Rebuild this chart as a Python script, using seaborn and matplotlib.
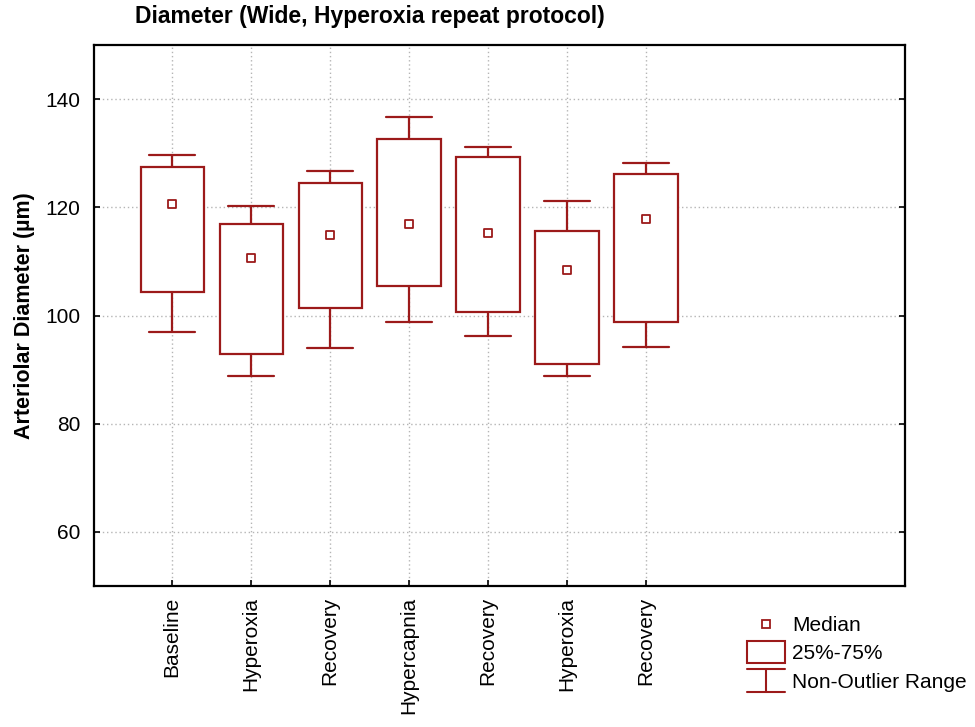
import numpy as np
import pandas as pd
import matplotlib
matplotlib.use("Agg")
import matplotlib.pyplot as plt
from matplotlib.patches import Rectangle
from matplotlib.lines import Line2D
from matplotlib.legend_handler import HandlerBase
import seaborn as sns

# ---- data ----
categories = ["Baseline", "Hyperoxia", "Recovery", "Hypercapnia", "Recovery", "Hyperoxia", "Recovery"]
whisker_low = [97.0, 88.9, 94.0, 98.8, 96.2, 88.9, 94.1]
q1 = [104.4, 92.9, 101.4, 105.5, 100.7, 91.0, 98.8]
median = [120.7, 110.7, 114.8, 117.0, 115.2, 108.5, 117.8]
q3 = [127.4, 117.0, 124.4, 132.6, 129.3, 115.6, 126.2]
whisker_high = [129.6, 120.3, 126.7, 136.7, 131.1, 121.1, 128.1]
y_ticks = [60, 80, 100, 120, 140]

RED = "#9c1a1a"

rows = []
for i in range(len(categories)):
    for v in (whisker_low[i], q1[i], median[i], q3[i], whisker_high[i]):
        rows.append({"pos": i, "val": v})
df = pd.DataFrame(rows)
med_df = pd.DataFrame({"pos": np.arange(len(categories)), "val": median})

sns.set_style("white")
plt.rcParams["font.family"] = ["Liberation Sans", "DejaVu Sans"]
plt.rcParams["text.color"] = "black"
plt.rcParams["axes.labelcolor"] = "black"
plt.rcParams["xtick.color"] = "black"
plt.rcParams["ytick.color"] = "black"

fig = plt.figure(figsize=(9.75, 7.27), dpi=100)
ax = fig.add_axes([94 / 975, 1 - 586 / 727, (905 - 94) / 975, (586 - 45) / 727])

sns.boxplot(data=df, x="pos", y="val", orient="x", native_scale=True, width=0.8,
            whis=(0, 100), color="white", linecolor=RED, linewidth=1.6, fill=True,
            showfliers=False, medianprops={"visible": False}, ax=ax, zorder=3)

# widen caps
for ln in ax.lines:
    xd = np.asarray(ln.get_xdata(), dtype=float)
    yd = np.asarray(ln.get_ydata(), dtype=float)
    if len(xd) == 2 and yd[0] == yd[1] and xd[0] != xd[1]:
        c = (xd[0] + xd[1]) / 2
        ln.set_xdata([c - 0.29, c + 0.29])

sns.scatterplot(data=med_df, x="pos", y="val", marker="s", s=40, facecolor="white",
                edgecolor=RED, linewidth=1.3, ax=ax, zorder=5, legend=False)

ax.set_xlim(-0.99, 9.28)
ax.set_ylim(50, 150)
ax.set_yticks(y_ticks)
ax.set_xticks(np.arange(len(categories)))
ax.set_xticklabels(categories, rotation=90, fontsize=15)
ax.tick_params(axis="y", labelsize=15, pad=10)
ax.tick_params(axis="x", pad=8)
ax.tick_params(direction="in", length=4, width=1.2, color="black",
               left=True, right=True, bottom=True, top=False)
ax.set_xlabel("")
ax.set_ylabel("Arteriolar Diameter (µm)", fontsize=15.5, fontweight="bold", labelpad=7)
ax.grid(True, linestyle=(0, (1, 2)), color="#b5b5b5", linewidth=1.0)
ax.set_axisbelow(True)
for s in ax.spines.values():
    s.set_color("black")
    s.set_linewidth(1.6)

fig.text(370 / 975, 1 - 16 / 727, "Diameter (Wide, Hyperoxia repeat protocol)",
         fontweight="bold", fontsize=16.5, ha="center", va="center")


class BoxHandler(HandlerBase):
    def create_artists(self, legend, orig_handle, xdescent, ydescent, width, height, fontsize, trans):
        cy = -ydescent + height / 2
        r = Rectangle((-xdescent, cy - 7.9), width, 15.8, facecolor="white",
                      edgecolor=RED, lw=1.5, transform=trans)
        return [r]


class WhiskerHandler(HandlerBase):
    def create_artists(self, legend, orig_handle, xdescent, ydescent, width, height, fontsize, trans):
        cy = -ydescent + height / 2
        x0 = -xdescent
        top = Line2D([x0, x0 + width], [cy + 8.6, cy + 8.6], color=RED, lw=1.5, transform=trans)
        bot = Line2D([x0, x0 + width], [cy - 8.6, cy - 8.6], color=RED, lw=1.5, transform=trans)
        mid = Line2D([x0 + width / 2, x0 + width / 2], [cy - 8.6, cy + 8.6], color=RED, lw=1.5, transform=trans)
        return [top, bot, mid]


class BoxKey: pass
class WhiskerKey: pass


h_med = Line2D([], [], marker="s", linestyle="", markerfacecolor="white",
               markeredgecolor=RED, markersize=6.3, markeredgewidth=1.3)
handles = [h_med, BoxKey(), WhiskerKey()]
labels = ["Median", "25%-75%", "Non-Outlier Range"]
fig.legend(handles, labels, loc="upper left", bbox_to_anchor=(747 / 975, 1 - 616 / 727),
           frameon=False, fontsize=15, handlelength=1.82, handletextpad=0.33,
           labelspacing=0.45, borderpad=0, borderaxespad=0,
           handler_map={BoxKey: BoxHandler(), WhiskerKey: WhiskerHandler()})

fig.savefig("out.png", dpi=100)
